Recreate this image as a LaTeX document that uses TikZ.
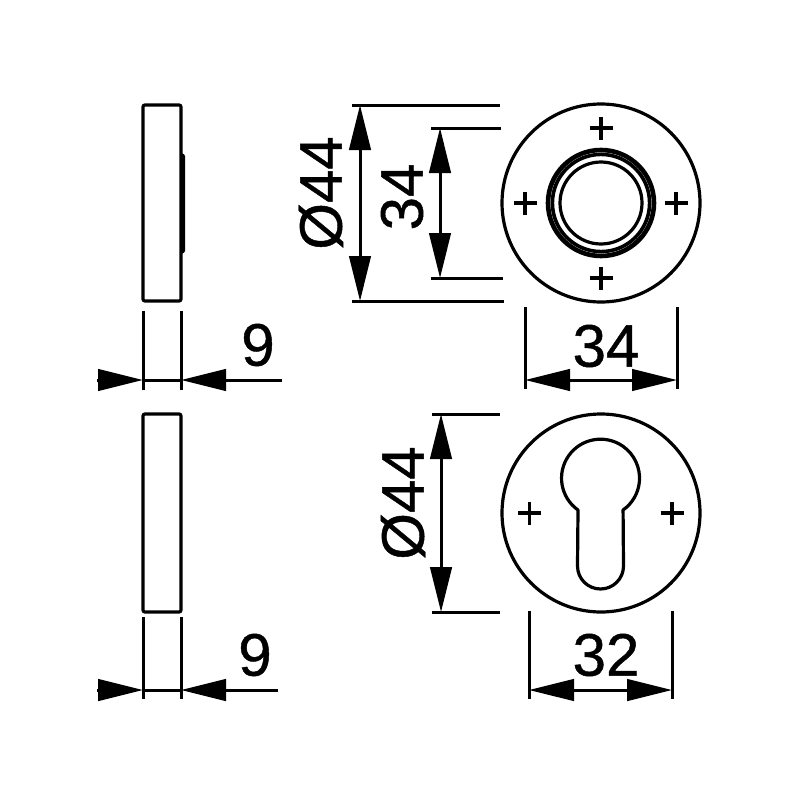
\documentclass[tikz,border=0pt]{standalone}
\usepackage{fontspec}
\setmainfont[FakeBold=0.7]{Liberation Sans}
\usetikzlibrary{arrows.meta}
\tikzset{
  part/.style={line width=3.2pt,draw=black},
  dimline/.style={line width=3pt,draw=black},
  tipped/.style={dimline,-{Triangle[length=45pt,width=21.5pt]}},
  tippedboth/.style={dimline,{Triangle[length=45pt,width=21.5pt]}-{Triangle[length=45pt,width=21.5pt]}},
  dimlabel/.style={inner sep=0pt,font=\fontsize{60}{60}\selectfont,text=black},
  screwmark/.pic={\draw[line width=3.2pt] (-11.5,0)--(11.5,0) (0,-11.5)--(0,11.5);}
}
\begin{document}
\begin{tikzpicture}[x=1pt,y=1pt,yscale=-1]
\useasboundingbox[fill=white] (0,0) rectangle (800,800);
% side view, top
\draw[part,rounded corners=2pt] (143,105) rectangle (181,301);
\fill[rounded corners=1pt] (180,152) -- (185,155) -- (185,252) -- (180,255) -- cycle;
% side view, bottom
\draw[part,rounded corners=2pt] (143,414) rectangle (181,612);
% dimension 9, top
\coordinate (a1) at (143,311); \coordinate (a2) at (143,390);
\coordinate (b1) at (181,311); \coordinate (b2) at (181,390);
\coordinate (c1) at (97,380); \coordinate (c2) at (143,380);
\coordinate (d1) at (282,380); \coordinate (d2) at (181,380);
\draw[dimline] (a1)--(a2); \draw[dimline] (b1)--(b2);
\draw[tipped] (c1)--(c2); \draw[dimline] (c2)--(d2); \draw[tipped] (d1)--(d2);
\node[dimlabel] (nineA) at (258,345) {9};
% dimension 9, bottom
\coordinate (e1) at (143,617); \coordinate (e2) at (143,699);
\coordinate (f1) at (181,617); \coordinate (f2) at (181,699);
\coordinate (g1) at (97,690); \coordinate (g2) at (143,690);
\coordinate (h1) at (278,690); \coordinate (h2) at (181,690);
\draw[dimline] (e1)--(e2); \draw[dimline] (f1)--(f2);
\draw[tipped] (g1)--(g2); \draw[dimline] (g2)--(h2); \draw[tipped] (h1)--(h2);
\node[dimlabel] (nineB) at (255,655) {9};
% rosette, top
\draw[part] (601,203) circle[radius=99];
\draw[line width=4.6pt] (601,203) circle[radius=53];
\draw[line width=3.6pt] (601,203) circle[radius=48.6];
\draw[part] (601,203) circle[radius=41];
\pic at (601,128) {screwmark};
\pic at (601,278) {screwmark};
\pic at (525,203) {screwmark};
\pic at (676,203) {screwmark};
% dimension diameter 44, top
\coordinate (i1) at (352,105); \coordinate (i2) at (500,105);
\coordinate (j1) at (352,301); \coordinate (j2) at (504,301);
\coordinate (i3) at (360,105); \coordinate (j3) at (360,301);
\draw[dimline] (i1)--(i2); \draw[dimline] (j1)--(j2);
\draw[tippedboth] (i3)--(j3);
\node[dimlabel,rotate=90] (diaA) at (321,193) {Ø44};
% dimension 34, vertical
\coordinate (k1) at (431,128); \coordinate (k2) at (501,128);
\coordinate (l1) at (431,278); \coordinate (l2) at (503,278);
\coordinate (k3) at (440,128); \coordinate (l3) at (440,278);
\draw[dimline] (k1)--(k2); \draw[dimline] (l1)--(l2);
\draw[tippedboth] (k3)--(l3);
\node[dimlabel,rotate=90] (vertA) at (402,197) {34};
% dimension 34, horizontal
\coordinate (m1) at (525,307); \coordinate (m2) at (525,389);
\coordinate (n1) at (677,307); \coordinate (n2) at (677,389);
\coordinate (m3) at (525,380); \coordinate (n3) at (677,380);
\draw[dimline] (m1)--(m2); \draw[dimline] (n1)--(n2);
\draw[tippedboth] (m3)--(n3);
\node[dimlabel] (horA) at (606,346) {34};
% rosette, bottom
\draw[part] (601,513) circle[radius=99];
\draw[part,line join=round] (578,510) arc[start angle=125.3,end angle=414.7,radius=39]
  -- (623.5,566) arc[start angle=0,end angle=180,radius=23] -- cycle;
\pic at (529.5,513) {screwmark};
\pic at (672,513) {screwmark};
% dimension diameter 44, bottom
\coordinate (o1) at (432,414); \coordinate (o2) at (500,414);
\coordinate (p1) at (432,612); \coordinate (p2) at (500,612);
\coordinate (o3) at (441,414); \coordinate (p3) at (441,612);
\draw[dimline] (o1)--(o2); \draw[dimline] (p1)--(p2);
\draw[tippedboth] (o3)--(p3);
\node[dimlabel,rotate=90] (diaB) at (403,503) {Ø44};
% dimension 32
\coordinate (q1) at (529,611); \coordinate (q2) at (529,699);
\coordinate (r1) at (672,611); \coordinate (r2) at (672,699);
\coordinate (q3) at (529,690); \coordinate (r3) at (672,690);
\draw[dimline] (q1)--(q2); \draw[dimline] (r1)--(r2);
\draw[tippedboth] (q3)--(r3);
\node[dimlabel] (horB) at (606,655) {32};
\end{tikzpicture}
\end{document}
